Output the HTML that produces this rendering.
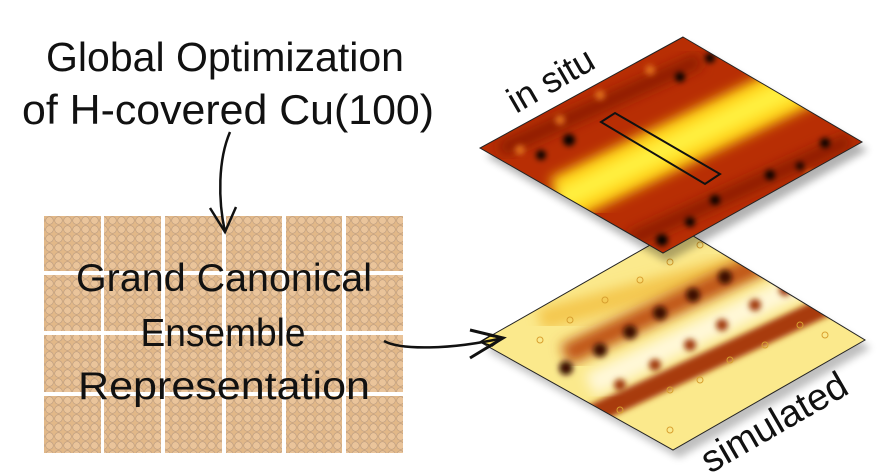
<!DOCTYPE html>
<html><head><meta charset="utf-8"><style>
html,body{margin:0;padding:0;background:#fff;width:893px;height:476px;overflow:hidden}
svg{display:block}
.t{font-family:"Comic Sans MS","Liberation Sans",sans-serif;fill:#111}
</style></head><body>
<svg width="893" height="476" viewBox="0 0 893 476" xmlns="http://www.w3.org/2000/svg">
<defs>
<pattern id="cu" width="9" height="9" patternUnits="userSpaceOnUse">
<rect width="9" height="9" fill="#e2b888"/>
<circle cx="4.5" cy="4.5" r="3.8" fill="#eac49a" stroke="#b89a80" stroke-width="0.6"/>
</pattern>
<filter id="b6"><feGaussianBlur stdDeviation="6"/></filter>
<filter id="b3"><feGaussianBlur stdDeviation="3"/></filter>
<clipPath id="c1"><polygon points="683,37 862,142 663,253 480,148"/></clipPath>
<clipPath id="c2"><polygon points="680,228 865,340 673,450 480,342"/></clipPath>
<filter id="sh"><feGaussianBlur stdDeviation="4"/></filter>
</defs>

<g fill="url(#cu)">
<rect x="44" y="216" width="57" height="55"/><rect x="104" y="216" width="57" height="55"/><rect x="165" y="216" width="57" height="55"/><rect x="226" y="216" width="56" height="55"/><rect x="286" y="216" width="56" height="55"/><rect x="346" y="216" width="57" height="55"/>
<rect x="44" y="275" width="57" height="56"/><rect x="104" y="275" width="57" height="56"/><rect x="165" y="275" width="57" height="56"/><rect x="226" y="275" width="56" height="56"/><rect x="286" y="275" width="56" height="56"/><rect x="346" y="275" width="57" height="56"/>
<rect x="44" y="335" width="57" height="57"/><rect x="104" y="335" width="57" height="57"/><rect x="165" y="335" width="57" height="57"/><rect x="226" y="335" width="56" height="57"/><rect x="286" y="335" width="56" height="57"/><rect x="346" y="335" width="57" height="57"/>
<rect x="44" y="396" width="57" height="57"/><rect x="104" y="396" width="57" height="57"/><rect x="165" y="396" width="57" height="57"/><rect x="226" y="396" width="56" height="57"/><rect x="286" y="396" width="56" height="57"/><rect x="346" y="396" width="57" height="57"/>
</g>

<text class="t" x="225" y="71" font-size="41" text-anchor="middle" textLength="358" lengthAdjust="spacingAndGlyphs">Global Optimization</text>
<text class="t" x="228" y="124" font-size="42" text-anchor="middle" textLength="412" lengthAdjust="spacingAndGlyphs">of H-covered Cu(100)</text>
<text class="t" x="224" y="291" font-size="39" text-anchor="middle" textLength="296" lengthAdjust="spacingAndGlyphs">Grand Canonical</text>
<text class="t" x="223" y="346" font-size="39" text-anchor="middle" textLength="165" lengthAdjust="spacingAndGlyphs">Ensemble</text>
<text class="t" x="224" y="399" font-size="39" text-anchor="middle" textLength="292" lengthAdjust="spacingAndGlyphs">Representation</text>

<path d="M230,132 C218,160 218,200 225,232" fill="none" stroke="#111" stroke-width="2.5"/>
<path d="M210,208 L225,232 L236,207" fill="none" stroke="#111" stroke-width="2.5"/>

<polygon points="686,236 871,348 679,458 486,350" fill="#000" opacity="0.25" filter="url(#sh)"/>
<g clip-path="url(#c2)">
<rect x="470" y="220" width="410" height="240" fill="#fbe98c"/>
<path d="M540,320 L760,260" stroke="#f4c850" stroke-width="22" filter="url(#b6)"/>
<path d="M570,425 L850,295" stroke="#a83a08" stroke-width="20" filter="url(#b3)"/>
<path d="M565,355 L800,245" stroke="#c05515" stroke-width="22" filter="url(#b6)"/>
<path d="M590,385 L830,270" stroke="#fff8d8" stroke-width="24" filter="url(#b6)"/>
<g fill="#3a0800" filter="url(#b3)">
<circle cx="566" cy="368" r="7"/><circle cx="600" cy="350" r="7"/><circle cx="630" cy="332" r="7"/><circle cx="660" cy="313" r="7"/><circle cx="693" cy="295" r="7"/><circle cx="725" cy="277" r="7"/>
</g>
<g fill="#a03a08" filter="url(#b3)">
<circle cx="620" cy="385" r="6"/><circle cx="655" cy="365" r="6"/><circle cx="690" cy="345" r="6"/><circle cx="722" cy="325" r="6"/><circle cx="755" cy="305" r="6"/><circle cx="785" cy="290" r="6"/>
</g>
<g fill="none" stroke="#d8a030" stroke-width="1">
<circle cx="540" cy="340" r="3"/><circle cx="570" cy="320" r="3"/><circle cx="605" cy="300" r="3"/><circle cx="640" cy="280" r="3"/><circle cx="670" cy="262" r="3"/><circle cx="700" cy="245" r="3"/>
<circle cx="620" cy="410" r="3"/><circle cx="670" cy="390" r="3"/><circle cx="730" cy="360" r="3"/><circle cx="765" cy="345" r="3"/><circle cx="800" cy="325" r="3"/><circle cx="825" cy="335" r="3"/><circle cx="670" cy="430" r="3"/><circle cx="700" cy="380" r="3"/>
</g>
</g>
<polygon points="680,228 865,340 673,450 480,342" fill="none" stroke="#222" stroke-width="1"/>

<polygon points="687,44 868,150 667,262 486,156" fill="#000" opacity="0.3" filter="url(#sh)"/>
<g clip-path="url(#c1)">
<rect x="470" y="30" width="400" height="230" fill="#b82e04"/>
<path d="M560,200 L830,70" stroke="#ffd018" stroke-width="48" filter="url(#b6)"/>
<path d="M560,200 L830,70" stroke="#fff040" stroke-width="22" filter="url(#b6)"/>
<path d="M500,150 L700,60" stroke="#8a1a02" stroke-width="14" filter="url(#b6)"/>
<path d="M630,240 L850,140" stroke="#8a1a02" stroke-width="14" filter="url(#b6)"/>
<g fill="#e0701a" filter="url(#b3)">
<circle cx="520" cy="150" r="5"/><circle cx="560" cy="120" r="5"/><circle cx="600" cy="95" r="5"/><circle cx="780" cy="200" r="5"/><circle cx="810" cy="175" r="5"/><circle cx="650" cy="70" r="5"/>
</g>
<g fill="#000" filter="url(#b3)">
<circle cx="569" cy="140" r="6"/><circle cx="541" cy="155" r="5"/><circle cx="680" cy="77" r="5"/><circle cx="710" cy="58" r="5"/><circle cx="825" cy="143" r="5"/><circle cx="770" cy="175" r="5"/><circle cx="715" cy="200" r="5"/><circle cx="690" cy="222" r="5"/><circle cx="662" cy="240" r="6"/><circle cx="800" cy="166" r="4"/>
</g>
</g>
<polygon points="683,37 862,142 663,253 480,148" fill="none" stroke="#222" stroke-width="1"/>
<polygon points="601,122 615,113 720,174 705,184" fill="none" stroke="#111" stroke-width="2"/>

<polygon points="480,342 490,336 503,338 492,346" fill="#fbe060" stroke="#111" stroke-width="1.5"/>
<path d="M384,341 C400,350 450,350 503,338" fill="none" stroke="#111" stroke-width="2.5"/>
<path d="M470,330 L503,338 L470,358" fill="none" stroke="#111" stroke-width="3"/>

<text class="t" font-size="36" transform="translate(516,114) rotate(-30)">in situ</text>
<text class="t" font-size="38" transform="translate(710,474) rotate(-30)">simulated</text>
</svg>
</body></html>
